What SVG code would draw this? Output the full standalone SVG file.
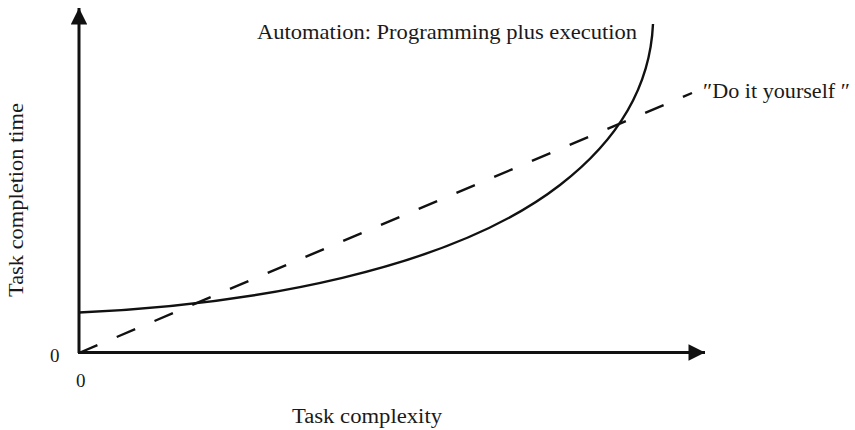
<svg xmlns="http://www.w3.org/2000/svg" width="855" height="430" viewBox="0 0 855 430">
  <style>
    text { font-family: "Liberation Serif", "Times New Roman", serif; fill: #1a1a1a; }
    .axis { stroke: #111; stroke-width: 3; fill: none; }
    .curve { stroke: #111; stroke-width: 2.4; fill: none; }
    .dash { stroke: #111; stroke-width: 2.4; fill: none; stroke-dasharray: 20 21; }
  </style>
  <defs>
    <marker id="arrow" viewBox="0 0 10 10" refX="10" refY="5" markerWidth="9" markerHeight="5.5" markerUnits="strokeWidth" orient="auto">
      <path d="M0,0 L10,5 L0,10 z" fill="#111"/>
    </marker>
  </defs>
  <rect width="855" height="430" fill="#fff"/>

  <!-- axes -->
  <g id="axes">
    <line class="axis" x1="79" y1="353" x2="79" y2="8" marker-end="url(#arrow)"/>
    <line class="axis" x1="78" y1="352.5" x2="705" y2="352.5" marker-end="url(#arrow)"/>
  </g>

  <!-- plotted curves -->
  <g id="connectors">
    <path id="automation-curve" class="curve" d="M79,312.5 C250,305 450,270 560,185 C615,142.5 650,90 653,24"/>
    <path id="diy-line" class="dash" d="M79,353 L692,93"/>
  </g>

  <!-- labels -->
  <g id="labels">
    <text x="257" y="39" font-size="21" textLength="380" lengthAdjust="spacingAndGlyphs">Automation: Programming plus execution</text>
    <text x="703" y="98" font-size="20" textLength="147" lengthAdjust="spacingAndGlyphs">″Do it yourself ″</text>
    <text x="50" y="362" font-size="19">0</text>
    <text x="76" y="387" font-size="19">0</text>
    <text x="292" y="423" font-size="20" textLength="150" lengthAdjust="spacingAndGlyphs">Task complexity</text>
    <text transform="translate(23,297) rotate(-90)" x="0" y="0" font-size="20" textLength="194" lengthAdjust="spacingAndGlyphs">Task completion time</text>
  </g>
</svg>
